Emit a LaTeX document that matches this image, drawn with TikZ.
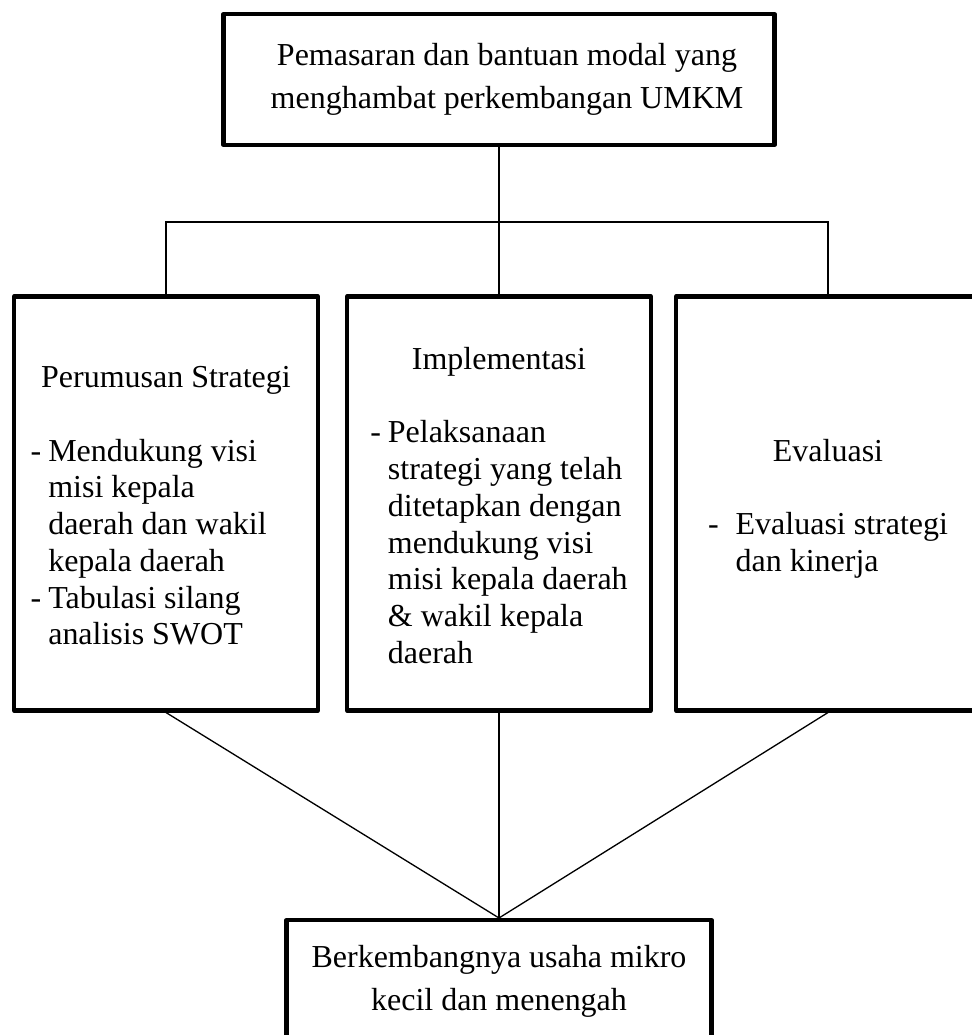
\documentclass[tikz,border=0pt]{standalone}
\usepackage{fontspec}
\setmainfont{Liberation Serif}
\usetikzlibrary{calc,positioning}

\begin{document}
\begin{tikzpicture}[
  x=1cm, y=1cm,
  box/.style={rectangle, draw=black, line width=2.3pt, line join=round, fill=white, align=center, inner sep=0pt, font=\fontsize{18.2}{24.5}\selectfont},
  stagebox/.style={box, minimum width=6.08cm, minimum height=8.28cm, font=\fontsize{18.2}{20.9}\selectfont},
  link/.style={draw=black, line width=0.75pt}
]

  \useasboundingbox (0,0) rectangle (19.44,-20.70);

  % Problem
  \node[box, minimum width=11.02cm, minimum height=2.62cm] (problem) at (9.98,-1.59) {\hspace*{0.32cm}Pemasaran dan bantuan modal yang\\\hspace*{0.32cm}menghambat perkembangan UMKM};

  % Stages
  \node[stagebox] (strategy) at (3.32,-10.07) {\begin{tabular}{@{}r@{\hspace{0.14cm}}l@{}}
    \rule{0pt}{0.9cm}\\[-0.9cm]
    \multicolumn{2}{c}{Perumusan Strategi}\\
    \\
    - & Mendukung visi\\
      & misi kepala\\
      & daerah dan wakil\\
      & kepala daerah\\
    - & Tabulasi silang\\
      & analisis SWOT
  \end{tabular}};

  \node[stagebox] (implementation) at (9.98,-10.07) {\begin{tabular}{@{}r@{\hspace{0.14cm}}l@{}}
    \rule{0pt}{0.9cm}\\[-0.9cm]
    \multicolumn{2}{c}{Implementasi}\\
    \\
    - & Pelaksanaan\\
      & strategi yang telah\\
      & ditetapkan dengan\\
      & mendukung visi\\
      & misi kepala daerah\\
      & \& wakil kepala\\
      & daerah
  \end{tabular}};

  \node[stagebox] (evaluation) at (16.56,-10.07) {\begin{tabular}{@{}r@{\hspace{0.34cm}}l@{}}
    \rule{0pt}{0.9cm}\\[-0.9cm]
    \multicolumn{2}{c}{Evaluasi}\\
    \\
    - & Evaluasi strategi\\
      & dan kinerja
  \end{tabular}};

  % Result
  \node[box, minimum width=8.5cm, minimum height=2.44cm] (result) at (9.98,-19.62) {Berkembangnya usaha mikro\\kecil dan menengah};

  % Connectors
  \coordinate (split) at (9.98,-4.44);
  \draw[link] (problem.south) -- (split);
  \draw[link] (strategy.north) |- (split) -| (evaluation.north);
  \draw[link] (split) -- (implementation.north);

  \draw[link] (strategy.south) -- (result.north);
  \draw[link] (implementation.south) -- (result.north);
  \draw[link] (evaluation.south) -- (result.north);

\end{tikzpicture}
\end{document}
